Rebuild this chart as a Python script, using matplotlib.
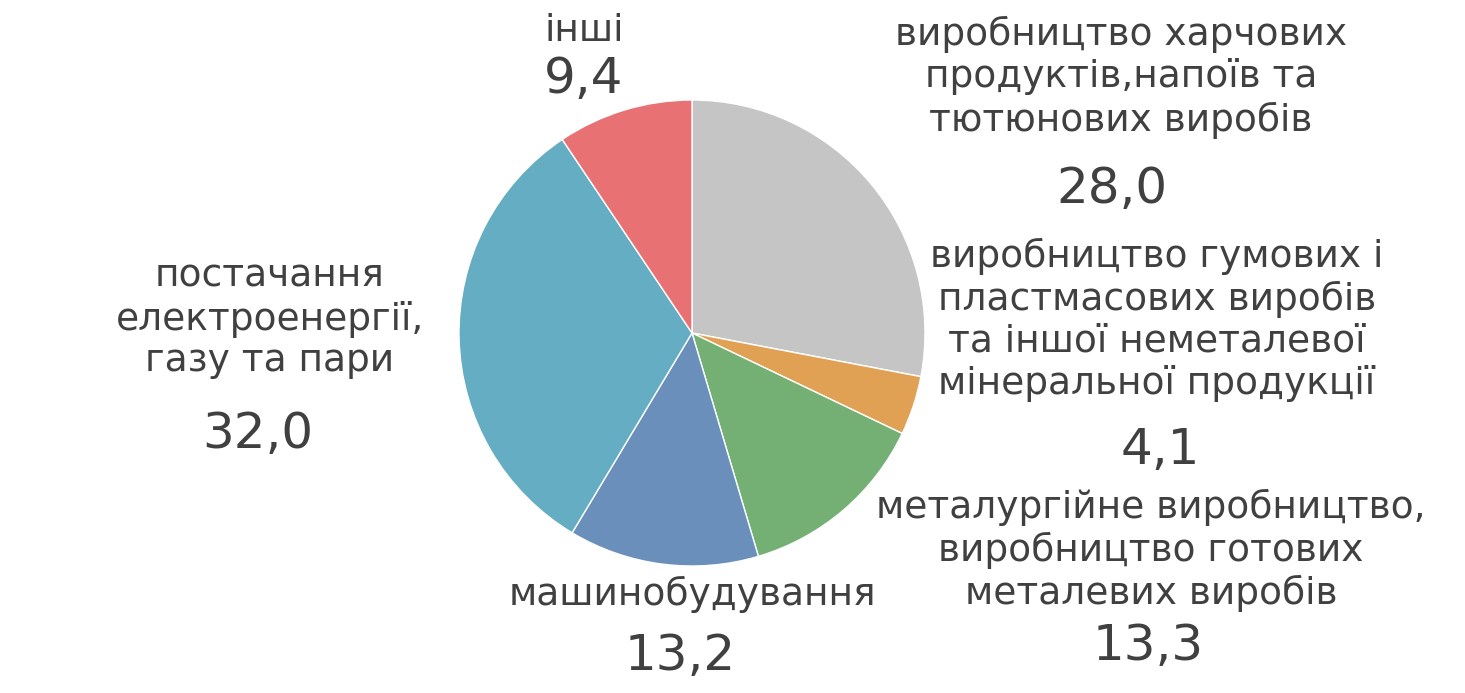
import matplotlib
matplotlib.use("Agg")
import matplotlib.pyplot as plt

# shares of industry, %
categories = [
    "виробництво харчових\nпродуктів,напоїв та\nтютюнових виробів",
    "виробництво гумових і\nпластмасових виробів\nта іншої неметалевої\nмінеральної продукції",
    "металургійне виробництво,\nвиробництво готових\nметалевих виробів",
    "машинобудування",
    "постачання\nелектроенергії,\nгазу та пари",
    "інші",
]
values = [28.0, 4.1, 13.3, 13.2, 32.0, 9.4]
value_labels = ["28,0", "4,1", "13,3", "13,2", "32,0", "9,4"]
colors = ["#C5C5C5", "#E0A155", "#74B074", "#6A8FBA", "#65ADC2", "#E87273"]

W, H = 1465, 693
fig = plt.figure(figsize=(W / 100, H / 100), dpi=100)

# pie centre / radius in pixels
cx, cy, r = 692, 333, 233
ax = fig.add_axes([(cx - r) / W, (H - cy - r) / H, 2 * r / W, 2 * r / H])
ax.pie(values, colors=colors, startangle=90, counterclock=False,
       wedgeprops=dict(edgecolor="white", linewidth=1))
ax.set_xlim(-1, 1)
ax.set_ylim(-1, 1)
ax.set_aspect("equal")
ax.axis("off")

# label positions (pixel centres): category text, value text
label_pos = [
    ((1121, 77), (1112, 189)),
    ((1157, 320), (1160, 450)),
    ((1151, 550), (1148, 646)),
    ((692, 594), (680, 656)),
    ((270, 319), (258, 434)),
    ((584, 31), (584, 79)),
]

txt_color = "#404040"
for cat, val, (p1, p2) in zip(categories, value_labels, label_pos):
    fig.text(p1[0] / W, 1 - p1[1] / H, cat, ha="center", va="center",
             fontsize=27, color=txt_color, linespacing=1.2)
    fig.text(p2[0] / W, 1 - p2[1] / H, val, ha="center", va="center",
             fontsize=36, color=txt_color)

fig.savefig("out.png", dpi=100, facecolor="white")
